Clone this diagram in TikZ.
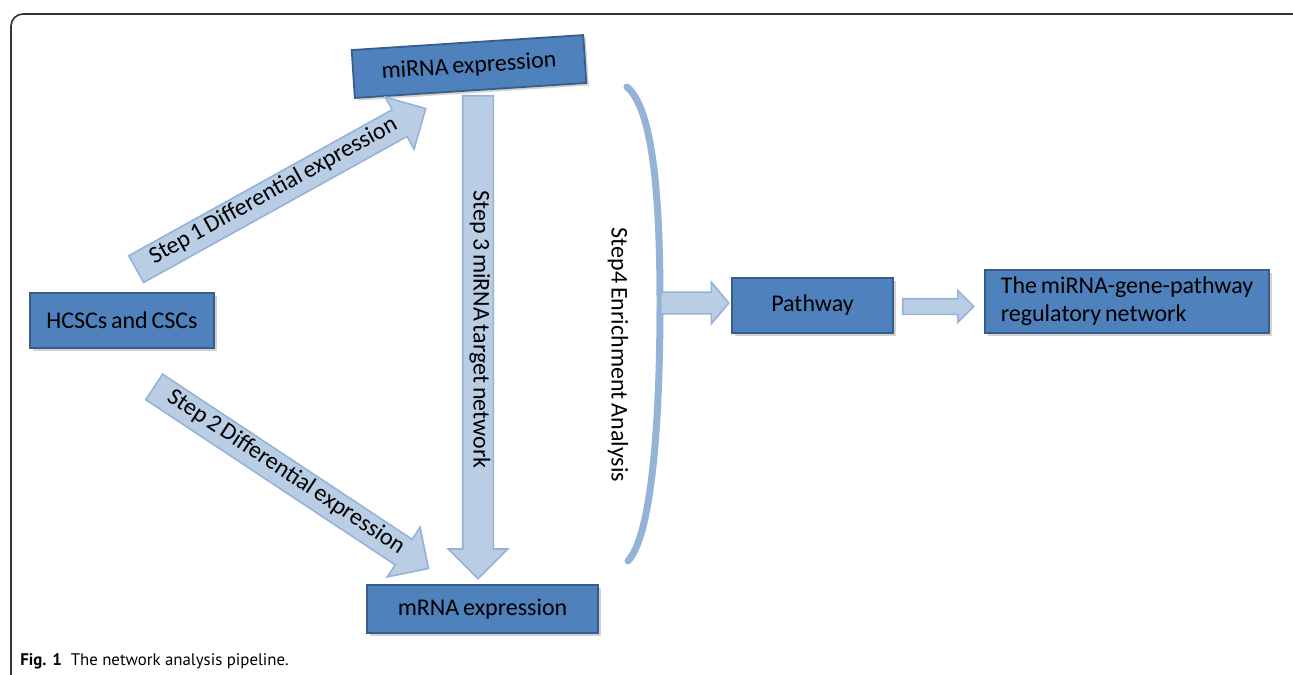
\documentclass[tikz,border=0pt]{standalone}
\usepackage{fontspec}
\setmainfont{Carlito}[WordSpace=0.7]
\newfontfamily\capfont{PT Sans}
\usetikzlibrary{shapes.arrows,shadows,calc}
\definecolor{boxfill}{HTML}{4F81BD}
\definecolor{boxline}{HTML}{385D8A}
\definecolor{arrfill}{HTML}{B9CDE5}
\definecolor{arrline}{HTML}{95B3D7}
\definecolor{brcol}{HTML}{95B3D7}
\definecolor{framecol}{HTML}{333333}
\begin{document}
\begin{tikzpicture}[x=0.5pt,y=-0.5pt,
  box/.style={draw=boxline, line width=0.9pt, fill=boxfill, inner sep=0pt,
    font=\fontsize{12}{14}\selectfont, text=black,
    drop shadow={shadow xshift=1.3pt, shadow yshift=-1.3pt, opacity=0.35}},
  blockarr/.style={single arrow, draw=arrline, line width=0.8pt, fill=arrfill,
    inner xsep=0pt, inner ysep=0pt, single arrow tip angle=90,
    font=\fontsize{12}{14}\selectfont},
  bigarr/.style={blockarr, text height=9.5pt, text depth=5pt, single arrow head extend=7.25pt},
  smallarr/.style={blockarr, text height=0pt, text depth=0pt},
  bracket/.style={brcol, line width=3.5pt, line cap=round},
  label/.style={font=\fontsize{12}{14}\selectfont, inner sep=0pt}
]
\useasboundingbox (0,0) rectangle (1293,674);
\begin{scope}
  \clip (0,0) rectangle (1293,674);
  \draw[framecol, line width=0.8pt, rounded corners=6pt] (11,14) rectangle (1306,700);
\end{scope}

% boxes
\node[box, minimum width=92pt, minimum height=27.5pt] (hcsc) at (122,320.5) {HCSCs and CSCs};
\node[box, rotate=3.7, minimum width=116pt, minimum height=24pt] (mirna) at (469,66.5) {miRNA expression};
\node[box, minimum width=115.5pt, minimum height=24pt] (mrna) at (482.5,609) {mRNA expression};
\node[box, minimum width=80.5pt, minimum height=27.5pt] (pathway) at (812.5,305.5) {Pathway};
\node[box, minimum width=142pt, minimum height=31.5pt, align=left] (final) at (1127,301.5) {The miRNA-gene-pathway\\regulatory network};

% block arrows
\coordinate (s1t) at (135.5,269.5);
\node[bigarr, rotate=29, anchor=tail, minimum height=165.5pt] (step1) at (s1t) {Step 1 Differential expression};
\coordinate (s2t) at (153.5,386.5);
\node[bigarr, rotate=-33.5, anchor=tail, minimum height=164.5pt] (step2) at (s2t) {Step 2 Differential expression};
\coordinate (s3t) at (478,95);
\node[bigarr, rotate=-90, anchor=tail, minimum height=241.5pt] (step3) at (s3t) {Step 3 miRNA target network};

% bracket
\coordinate (brtop) at (627,87);
\coordinate (brmid) at (660,303);
\coordinate (brbot) at (628,561);
\draw[bracket] (brtop) .. controls (652,108) and (660,190) .. (brmid) .. controls (660,420) and (652,535) .. (brbot);
\node[label, rotate=-90] (step4) at (618,355) {Step4 Enrichment Analysis};

% small arrows
\node[smallarr, inner ysep=5pt, single arrow head extend=5pt, single arrow tip angle=100, minimum height=34pt, anchor=tail] (a4) at (brmid) {};
\node[smallarr, inner ysep=3.5pt, single arrow head extend=4pt, minimum height=35.5pt, anchor=tail] (a5) at ($(pathway.east)+(8,1)$) {};

% caption
\node[anchor=base west, inner sep=0pt, font=\capfont\fontsize{8.4}{10}\selectfont] (cap) at (20,665) {\textbf{Fig. 1}\hspace{4.5pt}The network analysis pipeline.};
\end{tikzpicture}
\end{document}
